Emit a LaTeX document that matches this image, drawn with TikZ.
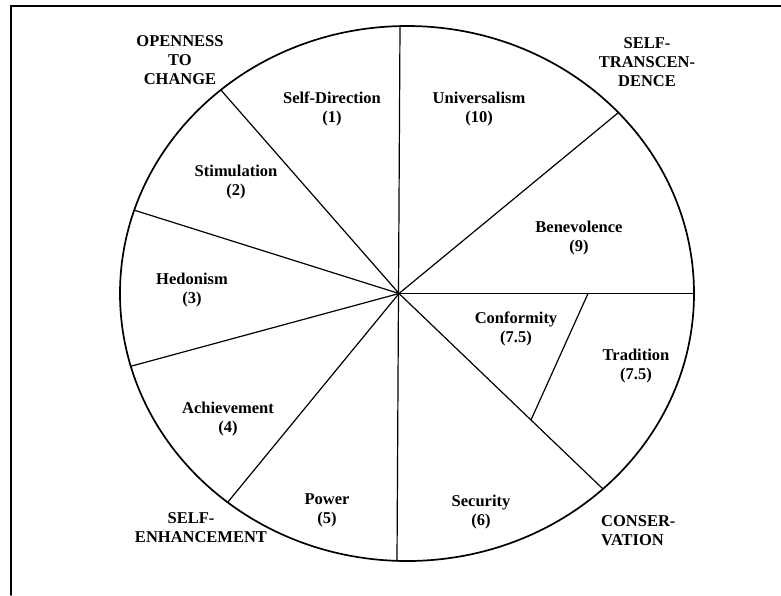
\documentclass[tikz,border=0pt]{standalone}
\usepackage{fontspec}
\setmainfont{Liberation Serif}
\usetikzlibrary{calc}
\begin{document}
\begin{tikzpicture}[x=1pt,y=-1pt,line cap=round,
  lab/.style={font=\fontsize{16.5}{19}\selectfont\bfseries,align=center,inner sep=0pt},
  spoke/.style={line width=1.2pt},
  rim/.style={line width=1.7pt}]
\useasboundingbox (0,0) rectangle (781,595);
% frame
\draw[line width=1.8pt] (11,595) -- (11,6) -- (781,6);
% circle
\draw[rim] (407,293.5) ellipse [x radius=287pt, y radius=267.5pt];
% centre and rim points
\coordinate (c) at (399,293.5);
\coordinate (top) at (400,26.1);
\coordinate (bot) at (397,560.9);
\coordinate (sdst) at (220.8,89.9);
\coordinate (sthe) at (134.3,210.2);
\coordinate (heac) at (131.4,366.1);
\coordinate (acpo) at (227.6,502.4);
\coordinate (seco) at (603,489);
\coordinate (right) at (694,293.5);
\coordinate (beun) at (618.4,112.6);
\coordinate (cttop) at (588,293.5);
\coordinate (ctbot) at ($(c)!0.647!(seco)$);
% spokes
\draw[spoke] (top) -- (bot);
\draw[spoke] (c) -- (sdst);
\draw[spoke] (c) -- (sthe);
\draw[spoke] (c) -- (heac);
\draw[spoke] (c) -- (acpo);
\draw[spoke] (c) -- (seco);
\draw[spoke] (c) -- (right);
\draw[spoke] (c) -- (beun);
\draw[spoke] (cttop) -- (ctbot);
% value labels
\node[lab] (sd) at (332,108.5) {Self-Direction\\(1)};
\node[lab] (st) at (236,182.5) {Stimulation\\(2)};
\node[lab] (he) at (192,290) {Hedonism\\(3)};
\node[lab] (ac) at (228,419.5) {Achievement\\(4)};
\node[lab] (po) at (327,510.5) {Power\\(5)};
\node[lab] (se) at (481,512.5) {Security\\(6)};
\node[lab] (co) at (516,329) {Conformity\\(7.5)};
\node[lab] (tr) at (636,366.5) {Tradition\\(7.5)};
\node[lab] (be) at (579,238.5) {Benevolence\\(9)};
\node[lab] (un) at (479,109.5) {Universalism\\(10)};
% higher-order labels
\node[lab] (otc) at (180,60) {OPENNESS\\TO\\CHANGE};
\node[lab] (str) at (647,62) {SELF-\\TRANSCEN-\\DENCE};
\node[lab] (se1) at (191,518) {SELF-};
\node[lab] (se2) at (201,537) {ENHANCEMENT};
\node[lab,align=left,anchor=west] (cons) at (601,531) {CONSER-\\VATION};
\end{tikzpicture}
\end{document}
